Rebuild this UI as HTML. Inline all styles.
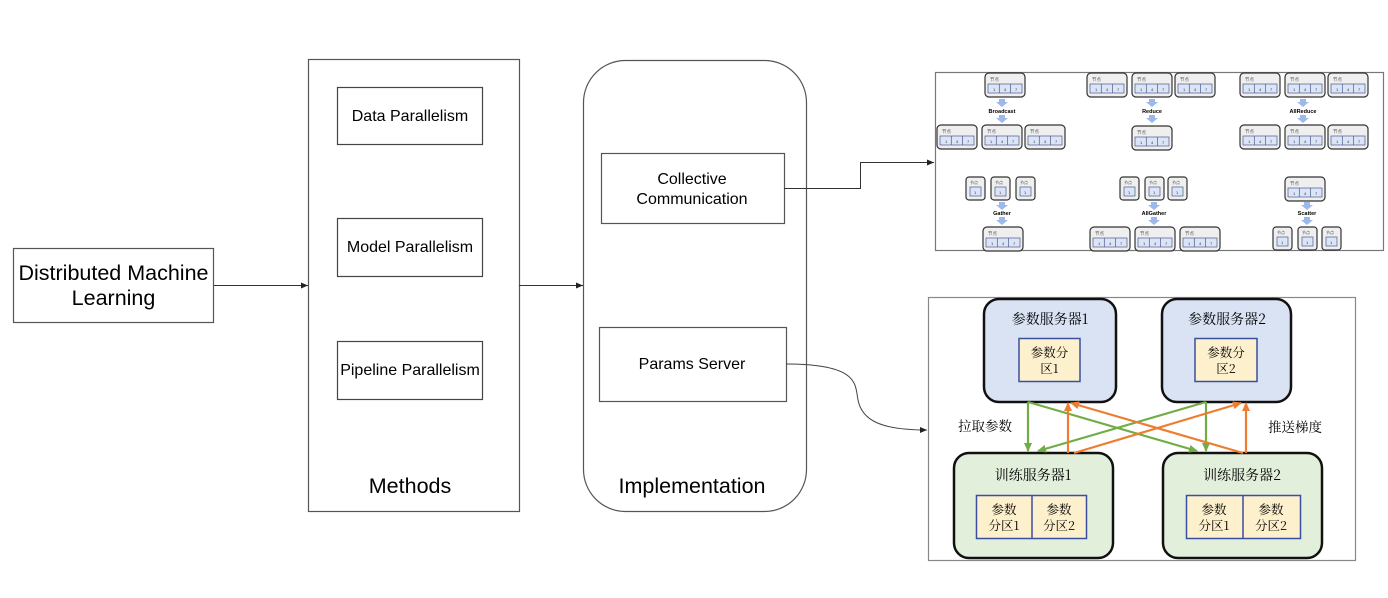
<!DOCTYPE html>
<html><head><meta charset="utf-8">
<style>
html,body{margin:0;padding:0;background:#fff;}
svg{display:block;}
text{font-family:"Liberation Sans",Arial,sans-serif;}
.cn{font-family:"Noto Serif CJK SC","Noto Sans CJK SC",serif;}
</style></head>
<body>
<svg width="1388" height="598" viewBox="0 0 1388 598" xmlns="http://www.w3.org/2000/svg">
<defs>
<marker id="ah" markerWidth="8" markerHeight="8" refX="7" refY="3" orient="auto" markerUnits="userSpaceOnUse"><path d="M0,0 L7,3 L0,6 z" fill="#222"/></marker>
<marker id="ag" markerWidth="10" markerHeight="10" refX="8" refY="4" orient="auto" markerUnits="userSpaceOnUse"><path d="M0,0 L9,4 L0,8 z" fill="#70ad47"/></marker>
<marker id="ao" markerWidth="10" markerHeight="10" refX="8" refY="4" orient="auto" markerUnits="userSpaceOnUse"><path d="M0,0 L9,4 L0,8 z" fill="#ed7d31"/></marker>
<g id="b3">
<rect x="0" y="0" width="40" height="24" rx="4" fill="#efefef" stroke="#333" stroke-width="1.2"/>
<text x="5" y="8" font-size="4.5" fill="#555">节点</text>
<rect x="3" y="11" width="34" height="9" fill="#dbe5f7" stroke="#4a5a8a" stroke-width="0.7"/>
<line x1="14.3" y1="11" x2="14.3" y2="20" stroke="#4a5a8a" stroke-width="0.7"/>
<line x1="25.6" y1="11" x2="25.6" y2="20" stroke="#4a5a8a" stroke-width="0.7"/>
<text x="8" y="18" font-size="4" fill="#333">1</text><text x="19" y="18" font-size="4" fill="#333">4</text><text x="30" y="18" font-size="4" fill="#333">7</text>
</g>
<g id="b1">
<rect x="0" y="0" width="19" height="23" rx="3" fill="#efefef" stroke="#333" stroke-width="1.2"/>
<text x="4" y="7" font-size="4" fill="#555">节点</text>
<rect x="4" y="10" width="11" height="9" fill="#dbe5f7" stroke="#4a5a8a" stroke-width="0.7"/>
<text x="8" y="17" font-size="4" fill="#333">1</text>
</g>
<g id="dn">
<path d="M-3,0 h6 v3 h3 l-6,5 l-6,-5 h3 z" fill="#9db8ea"/>
</g>
</defs>

<rect x="13.5" y="248.5" width="200" height="74" fill="#fff" stroke="#555" stroke-width="1.2"/>
<text x="113.5" y="280" font-size="21.5" text-anchor="middle" fill="#000">Distributed Machine</text>
<text x="113.5" y="305" font-size="21.5" text-anchor="middle" fill="#000">Learning</text>
<line x1="214" y1="285.5" x2="308" y2="285.5" stroke="#333" stroke-width="1" marker-end="url(#ah)"/>

<rect x="308.5" y="59.5" width="211" height="452" fill="#fff" stroke="#555" stroke-width="1.2"/>
<rect x="337.5" y="87.5" width="145" height="57" fill="#fff" stroke="#444" stroke-width="1.2"/>
<text x="410" y="121" font-size="16" text-anchor="middle">Data Parallelism</text>
<rect x="337.5" y="218.5" width="145" height="58" fill="#fff" stroke="#444" stroke-width="1.2"/>
<text x="410" y="252" font-size="16" text-anchor="middle">Model Parallelism</text>
<rect x="337.5" y="341.5" width="145" height="58" fill="#fff" stroke="#444" stroke-width="1.2"/>
<text x="410" y="375" font-size="16" text-anchor="middle">Pipeline Parallelism</text>
<text x="410" y="493" font-size="21.5" text-anchor="middle">Methods</text>
<line x1="519" y1="285.5" x2="583" y2="285.5" stroke="#333" stroke-width="1" marker-end="url(#ah)"/>

<rect x="583.5" y="60.5" width="223" height="451" rx="42" fill="#fff" stroke="#555" stroke-width="1.2"/>
<rect x="601.5" y="153.5" width="183" height="70" fill="#fff" stroke="#555" stroke-width="1.2"/>
<text x="692" y="184" font-size="16" text-anchor="middle">Collective</text>
<text x="692" y="204" font-size="16" text-anchor="middle">Communication</text>
<rect x="599.5" y="327.5" width="187" height="74" fill="#fff" stroke="#555" stroke-width="1.2"/>
<text x="692" y="369" font-size="16" text-anchor="middle">Params Server</text>
<text x="692" y="493" font-size="21.5" text-anchor="middle">Implementation</text>

<polyline points="784,188.5 860.5,188.5 860.5,162.5 934,162.5" fill="none" stroke="#333" stroke-width="1" marker-end="url(#ah)"/>
<path d="M786,364 C860,364 855,385 858,400 C862,420 880,430 927,430" fill="none" stroke="#444" stroke-width="1" marker-end="url(#ah)"/>

<rect x="935.5" y="72.5" width="448" height="178" fill="#fff" stroke="#777" stroke-width="1.2"/>
<use href="#b3" x="985" y="73"/>
<use href="#dn" x="1002" y="99"/>
<text x="1002" y="113" font-size="5.5" font-weight="bold" text-anchor="middle">Broadcast</text>
<use href="#dn" x="1002" y="115"/>
<use href="#b3" x="937" y="125"/><use href="#b3" x="982" y="125"/><use href="#b3" x="1025" y="125"/>

<use href="#b3" x="1087" y="73"/><use href="#b3" x="1132" y="73"/><use href="#b3" x="1175" y="73"/>
<use href="#dn" x="1152" y="99"/>
<text x="1152" y="113" font-size="5.5" font-weight="bold" text-anchor="middle">Reduce</text>
<use href="#dn" x="1152" y="115"/>
<use href="#b3" x="1132" y="126"/>

<use href="#b3" x="1240" y="73"/><use href="#b3" x="1285" y="73"/><use href="#b3" x="1328" y="73"/>
<use href="#dn" x="1303" y="99"/>
<text x="1303" y="113" font-size="5.5" font-weight="bold" text-anchor="middle">AllReduce</text>
<use href="#dn" x="1303" y="115"/>
<use href="#b3" x="1240" y="125"/><use href="#b3" x="1285" y="125"/><use href="#b3" x="1328" y="125"/>

<use href="#b1" x="966" y="177"/><use href="#b1" x="991" y="177"/><use href="#b1" x="1016" y="177"/>
<use href="#dn" x="1002" y="202"/>
<text x="1002" y="215" font-size="5.5" font-weight="bold" text-anchor="middle">Gather</text>
<use href="#dn" x="1002" y="217"/>
<use href="#b3" x="983" y="227"/>

<use href="#b1" x="1120" y="177"/><use href="#b1" x="1145" y="177"/><use href="#b1" x="1168" y="177"/>
<use href="#dn" x="1154" y="202"/>
<text x="1154" y="215" font-size="5.5" font-weight="bold" text-anchor="middle">AllGather</text>
<use href="#dn" x="1154" y="217"/>
<use href="#b3" x="1090" y="227"/><use href="#b3" x="1135" y="227"/><use href="#b3" x="1180" y="227"/>

<use href="#b3" x="1285" y="177"/>
<use href="#dn" x="1307" y="202"/>
<text x="1307" y="215" font-size="5.5" font-weight="bold" text-anchor="middle">Scatter</text>
<use href="#dn" x="1307" y="217"/>
<use href="#b1" x="1273" y="227"/><use href="#b1" x="1298" y="227"/><use href="#b1" x="1322" y="227"/>

<rect x="928.5" y="297.5" width="427" height="263" fill="#fff" stroke="#888" stroke-width="1.2"/>
<rect x="984" y="299" width="132" height="103" rx="15" fill="#dae3f3" stroke="#111" stroke-width="2.5"/>
<text x="1050" y="324" font-size="14" text-anchor="middle" class="cn">参数服务器1</text>
<rect x="1019" y="338.5" width="61" height="43" fill="#fdf0cd" stroke="#3a4fa0" stroke-width="1.5"/>
<text x="1049.5" y="357" font-size="12.5" text-anchor="middle" class="cn">参数分</text>
<text x="1049.5" y="373" font-size="12.5" text-anchor="middle" class="cn">区1</text>

<rect x="1162" y="299" width="129" height="103" rx="15" fill="#dae3f3" stroke="#111" stroke-width="2.5"/>
<text x="1227" y="324" font-size="14" text-anchor="middle" class="cn">参数服务器2</text>
<rect x="1195" y="338.5" width="62" height="43" fill="#fdf0cd" stroke="#3a4fa0" stroke-width="1.5"/>
<text x="1226" y="357" font-size="12.5" text-anchor="middle" class="cn">参数分</text>
<text x="1226" y="373" font-size="12.5" text-anchor="middle" class="cn">区2</text>

<rect x="954" y="453" width="159" height="105" rx="15" fill="#e2efda" stroke="#111" stroke-width="2.5"/>
<text x="1033" y="480" font-size="14" text-anchor="middle" class="cn">训练服务器1</text>
<rect x="976.5" y="495.5" width="110" height="43" fill="#fdf0cd" stroke="#3a4fa0" stroke-width="1.5"/>
<line x1="1032" y1="495.5" x2="1032" y2="538.5" stroke="#3a4fa0" stroke-width="1.5"/>
<text x="1004" y="514" font-size="12.5" text-anchor="middle" class="cn">参数</text>
<text x="1004" y="530" font-size="12.5" text-anchor="middle" class="cn">分区1</text>
<text x="1059" y="514" font-size="12.5" text-anchor="middle" class="cn">参数</text>
<text x="1059" y="530" font-size="12.5" text-anchor="middle" class="cn">分区2</text>

<rect x="1163" y="453" width="159" height="105" rx="15" fill="#e2efda" stroke="#111" stroke-width="2.5"/>
<text x="1242" y="480" font-size="14" text-anchor="middle" class="cn">训练服务器2</text>
<rect x="1186.5" y="495.5" width="114" height="43" fill="#fdf0cd" stroke="#3a4fa0" stroke-width="1.5"/>
<line x1="1243" y1="495.5" x2="1243" y2="538.5" stroke="#3a4fa0" stroke-width="1.5"/>
<text x="1214" y="514" font-size="12.5" text-anchor="middle" class="cn">参数</text>
<text x="1214" y="530" font-size="12.5" text-anchor="middle" class="cn">分区1</text>
<text x="1271" y="514" font-size="12.5" text-anchor="middle" class="cn">参数</text>
<text x="1271" y="530" font-size="12.5" text-anchor="middle" class="cn">分区2</text>

<g stroke-width="2.2" fill="none">
<line x1="1028" y1="402" x2="1028" y2="451" stroke="#70ad47" marker-end="url(#ag)"/>
<line x1="1028" y1="402" x2="1197" y2="451" stroke="#70ad47" marker-end="url(#ag)"/>
<line x1="1206" y1="402" x2="1206" y2="451" stroke="#70ad47" marker-end="url(#ag)"/>
<line x1="1206" y1="402" x2="1038" y2="451" stroke="#70ad47" marker-end="url(#ag)"/>
<line x1="1068" y1="453" x2="1068" y2="403" stroke="#ed7d31" marker-end="url(#ao)"/>
<line x1="1074" y1="453" x2="1241" y2="403" stroke="#ed7d31" marker-end="url(#ao)"/>
<line x1="1246" y1="453" x2="1246" y2="403" stroke="#ed7d31" marker-end="url(#ao)"/>
<line x1="1243" y1="453" x2="1071" y2="403" stroke="#ed7d31" marker-end="url(#ao)"/>
</g>
<text x="985" y="431" font-size="13.5" text-anchor="middle" class="cn">拉取参数</text>
<text x="1295" y="432" font-size="13.5" text-anchor="middle" class="cn">推送梯度</text>
</svg>
</body></html>
